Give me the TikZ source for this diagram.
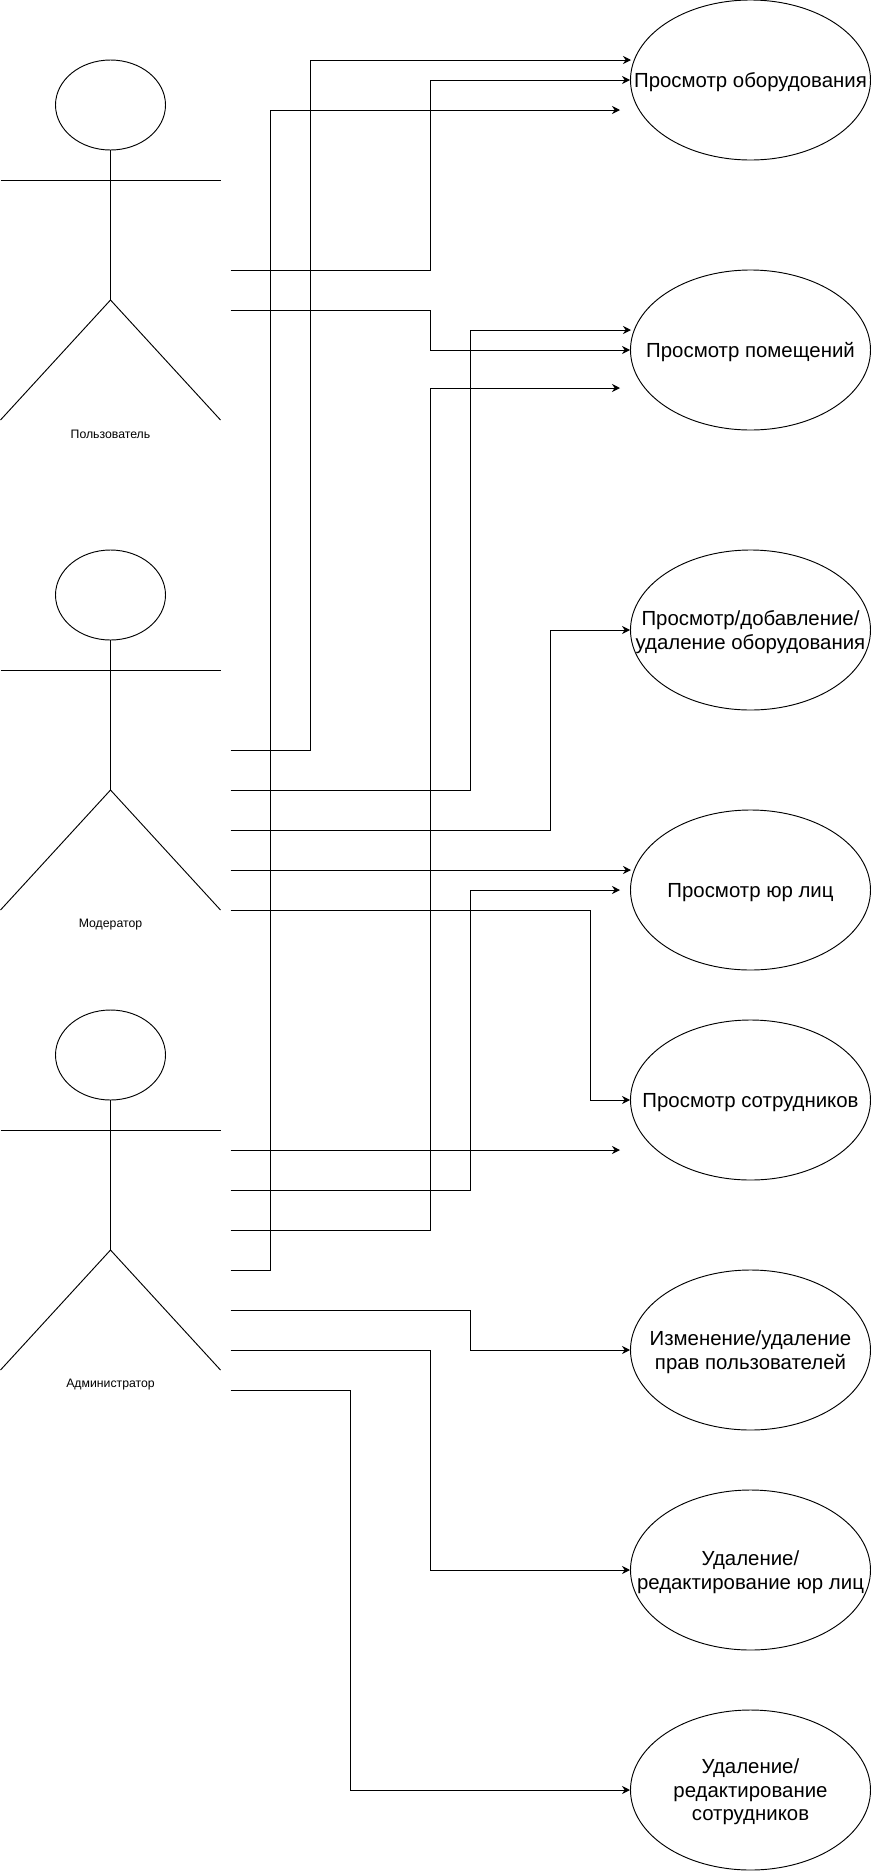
\documentclass[tikz,border=0pt]{standalone}
\usepackage{fontspec}
\setmainfont{Liberation Sans}
\usetikzlibrary{shapes.geometric, arrows.meta}

\tikzset{
  usecase/.style={draw, ellipse, inner sep=0pt, minimum width=180pt, minimum height=120pt},
  casetext/.style={align=center, inner sep=0pt, yshift=-1.6pt, font=\fontsize{15.3}{17.6}\selectfont},
  head/.style={draw, ellipse, inner sep=0pt, minimum width=82.5pt, minimum height=67.5pt},
  rolename/.style={yshift=-.8pt, font=\fontsize{9.2}{11}\selectfont},
  link/.style={-{Stealth[length=6pt,width=6pt]}, line width=.75pt}
}

\begin{document}
\begin{tikzpicture}[x=.75pt, y=-.75pt, line width=.7pt]
\useasboundingbox (0,0) rectangle (871,1871);

% actors
\foreach \n/\top/\role in {user/60/Пользователь, moder/550/Модератор, admin/1010/Администратор}{
  \node[head] (\n) at (110.5,\top+45) {};
  \coordinate (\n hip) at (110.5,\top+240);
  \draw (\n.south) -- (\n hip);
  \draw (0.5,\top+120) -- (220.5,\top+120);
  \draw (0.5,\top+360) -- (\n hip) -- (220.5,\top+360);
  \node[rolename] (\n name) at (110.5,\top+373.5) {\role};
}

% use cases
\node[usecase] (equip) at (750.5,80) {};
\node[usecase] (rooms) at (750.5,350) {};
\node[usecase] (equipedit) at (750.5,630) {};
\node[usecase] (legal) at (750.5,890) {};
\node[usecase] (staff) at (750.5,1100) {};
\node[usecase] (rights) at (750.5,1350) {};
\node[usecase] (legaledit) at (750.5,1570) {};
\node[usecase] (staffedit) at (750.5,1790) {};

% texts of the use cases
\node[casetext] (equiptext) at (equip) {Просмотр оборудования};
\node[casetext] (roomstext) at (rooms) {Просмотр помещений};
\node[casetext] (equipedittext) at (equipedit) {Просмотр/добавление/\\удаление оборудования};
\node[casetext] (legaltext) at (legal) {Просмотр юр лиц};
\node[casetext] (stafftext) at (staff) {Просмотр сотрудников};
\node[casetext] (rightstext) at (rights) {Изменение/удаление\\прав пользователей};
\node[casetext] (legaledittext) at (legaledit) {Удаление/\\редактирование юр лиц};
\node[casetext] (staffedittext) at (staffedit) {Удаление/\\редактирование\\сотрудников};

% line starts
\foreach \n/\y in {ua/270, ub/310, ma/750, mb/790, mc/830, md/870, me/910,
    aa/1150, ab/1190, ac/1230, ad/1270, ae/1310, af/1350, ag/1390}
  \coordinate (\n) at (230.5,\y);

% line ends that stop off the ellipse
\foreach \n/\x/\y in {equipt/631/60, equipb/620/110, roomst/631/330, roomsb/620/388,
    legalt/631/870, legalb/620/890, staffb/620/1150}
  \coordinate (\n) at (\x,\y);

% straight lines
\draw[link] (md) -- (legalt);
\draw[link] (aa) -- (staffb);

% lines with two bends
\foreach \from/\bend/\dest in {ua/430.5/equip.west, ub/430.5/rooms.west,
    ma/310.5/equipt, mb/470.5/roomst, mc/550.5/equipedit.west, me/590.5/staff.west,
    ab/470.5/legalb, ac/430.5/roomsb, ad/270.5/equipb,
    ae/470.5/rights.west, af/430.5/legaledit.west, ag/350.5/staffedit.west}
  \draw[link] (\from) -| (\bend,0 |- \dest) -- (\dest);
\end{tikzpicture}
\end{document}
